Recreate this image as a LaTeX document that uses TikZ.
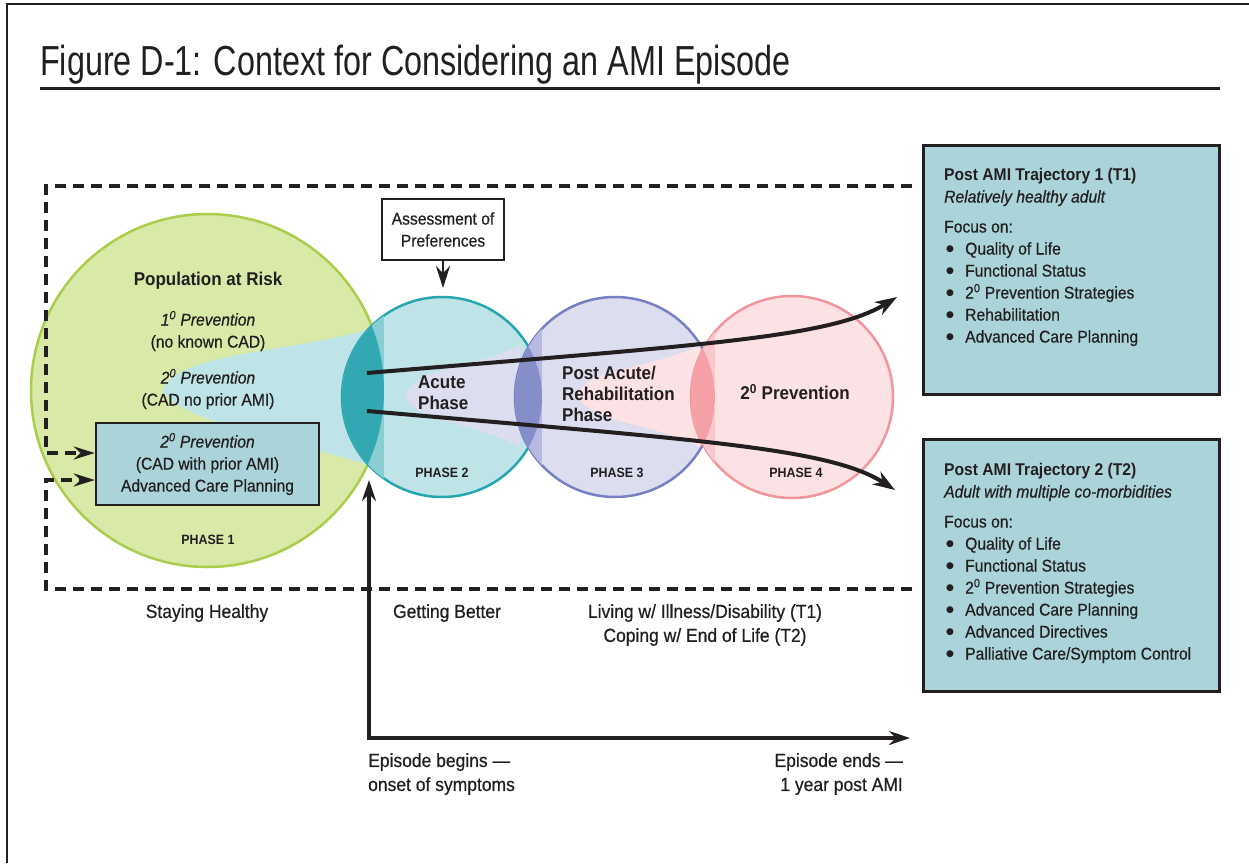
\documentclass[tikz,border=0pt]{standalone}
\usepackage{fontspec}
\setmainfont[FakeStretch=0.92,
  UprightFeatures={FakeBold=0.6},
  ItalicFeatures={FakeBold=0.6}]{Liberation Sans}
\newfontfamily\titlefont[FakeStretch=0.77]{Liberation Sans}
\newfontfamily\symfont{DejaVu Sans}
\usetikzlibrary{arrows.meta,positioning}

\definecolor{ink}{RGB}{35,31,32}
\definecolor{greenfill}{RGB}{217,233,168}
\definecolor{greenline}{RGB}{170,205,75}
\definecolor{cyanfill}{RGB}{190,228,232}
\definecolor{tealline}{RGB}{38,166,175}
\definecolor{tealstrip}{RGB}{138,205,211}
\definecolor{teallens}{RGB}{50,168,178}
\definecolor{lavfill}{RGB}{220,222,240}
\definecolor{blueline}{RGB}{118,128,195}
\definecolor{bluestrip}{RGB}{182,186,225}
\definecolor{bluelens}{RGB}{133,142,200}
\definecolor{pinkfill}{RGB}{252,226,228}
\definecolor{pinkline}{RGB}{243,150,156}
\definecolor{pinkstrip}{RGB}{249,200,204}
\definecolor{pinklens}{RGB}{244,160,166}
\definecolor{boxfill}{RGB}{170,212,218}

\newcommand{\bul}{\hspace*{2pt}\makebox[19pt][l]{\raisebox{2.6pt}{\symfont\fontsize{9}{9}\selectfont ●}}}
\newcommand{\sz}{\textsuperscript{0}}

\begin{document}
\begin{tikzpicture}[x=1pt,y=-1pt,
    every node/.style={text=ink, inner sep=0pt},
    txt/.style={font=\fontsize{17}{22}\selectfont},
    phasename/.style={font=\fontsize{18.5}{21}\selectfont\bfseries, align=left},
    phaselbl/.style={font=\fontsize{13.5}{16}\selectfont\bfseries},
    bottomtxt/.style={font=\fontsize{19}{24}\selectfont},
    dashframe/.style={draw=ink, line width=3.5pt, dash pattern=on 11pt off 7pt,
      -{Stealth[length=21pt,width=13pt]}},
    traj/.style={draw=ink, line width=4pt, -{Stealth[length=22pt,width=15pt,inset=7pt]}},
    trajbox/.style={draw=ink, line width=2.5pt, fill=boxfill, anchor=north west,
      minimum width=296pt},
    ring/.style={line width=2.5pt},
  ]
  \useasboundingbox (0,0) rectangle (1249,863);

  % frame and title
  \draw[ink, line width=2.5pt] (7,863) -- (7,4) -- (1249,4);
  \node[anchor=base west, font=\titlefont\fontsize{42}{42}\selectfont] (title) at (40,75)
    {Figure D-1: Context for Considering an AMI Episode};
  \draw[ink, line width=3pt] (40,88) -- (1220,88);

  \coordinate (c1) at (207.5,390.5);
  \coordinate (c2) at (442,397);
  \coordinate (c3) at (615,397);
  \coordinate (c4) at (792,397);

  % phase 1
  \fill[greenfill] (c1) circle[radius=176.5pt];
  \draw[greenline, ring] (c1) circle[radius=176.5pt];
  \fill[cyanfill] (372,328) .. controls (300,352) and (175,352) .. (163,390)
    .. controls (175,420) and (290,440) .. (372,466) -- cycle;

  % phase 2
  \fill[cyanfill] (c2) circle[radius=100pt];
  \draw[tealline, ring] (c2) circle[radius=100pt];
  \begin{scope}
    \clip (c2) circle[radius=100pt];
    \fill[tealstrip] (330,290) rectangle (384,505);
    \clip (c1) circle[radius=176.5pt];
    \fill[teallens] (330,290) rectangle (384,505);
  \end{scope}
  \fill[lavfill] (520,345) .. controls (470,370) and (412,368) .. (406,395)
    .. controls (412,422) and (470,420) .. (520,447) -- cycle;

  % phase 3
  \fill[lavfill] (c3) circle[radius=100pt];
  \draw[blueline, ring] (c3) circle[radius=100pt];
  \begin{scope}
    \clip (c3) circle[radius=100pt];
    \fill[bluestrip] (505,290) rectangle (542,505);
    \clip (c2) circle[radius=100pt];
    \fill[bluelens] (505,290) rectangle (542,505);
  \end{scope}
  \fill[pinkfill] (700,345) .. controls (650,370) and (586,368) .. (578,395)
    .. controls (586,422) and (650,422) .. (700,447) -- cycle;

  % phase 4
  \fill[pinkfill] (c4) circle[radius=101pt];
  \draw[pinkline, ring] (c4) circle[radius=101pt];
  \begin{scope}
    \clip (c4) circle[radius=101pt];
    \fill[pinkstrip] (680,290) rectangle (715,505);
    \clip (c3) circle[radius=100pt];
    \fill[pinklens] (680,290) rectangle (715,505);
  \end{scope}

  % phase texts
  \node[font=\fontsize{18.5}{21}\selectfont\bfseries] (risk) at (208,281) {Population at Risk};
  \node[txt, align=center] (prev1) at (208,331) {\textit{1\sz{} Prevention}\\(no known CAD)};
  \node[txt, align=center] (prev2) at (208,389) {\textit{2\sz{} Prevention}\\(CAD no prior AMI)};
  \node[txt, align=center, draw=ink, line width=2.5pt, fill=boxfill,
    minimum width=223pt, minimum height=82pt] (p1box) at (207.5,464)
    {\textit{2\sz{} Prevention}\\(CAD with prior AMI)\\Advanced Care Planning};
  \node[phaselbl] (ph1) at (208,540) {PHASE 1};

  \node[phasename, anchor=west] (acute) at (418,393) {Acute\\Phase};
  \node[phaselbl] (ph2) at (442,473) {PHASE 2};
  \node[phasename, anchor=west] (rehab) at (562,394) {Post Acute/\\Rehabilitation\\Phase};
  \node[phaselbl] (ph3) at (617,473) {PHASE 3};
  \node[phasename] (secprev) at (795,392) {2\sz{} Prevention};
  \node[phaselbl] (ph4) at (796,473) {PHASE 4};

  % assessment
  \node[txt, align=center, draw=ink, line width=2pt, fill=white,
    minimum width=122pt, minimum height=61pt] (assess) at (443,229.5)
    {Assessment of\\Preferences};
  \coordinate (assesstip) at (443,288);
  \draw[ink, line width=2.5pt, -{Stealth[length=22pt,width=14pt]}] (assess) -- (assesstip);

  % dashed frame
  \draw[dashframe] (912,186) -- (46,186) -- (46,453) -- (p1box.west |- 0,453);
  \draw[dashframe] (912,589) -- (46,589) -- (46,480) -- (p1box.west |- 0,480);

  % trajectories
  \coordinate (t1start) at (367,373);
  \coordinate (t1end) at (897,297);
  \coordinate (t2start) at (367,411);
  \coordinate (t2end) at (895,490);
  \draw[traj] (t1start) .. controls (700,345) and (830,338) .. (t1end);
  \draw[traj] (t2start) .. controls (700,440) and (830,448) .. (t2end);

  \node[trajbox, minimum height=249pt] (t1box) at (922,144) {};
  \node[txt, anchor=north west, align=left] (t1txt) at (944,168)
    {\textbf{Post AMI Trajectory 1 (T1)}\\
     \textit{Relatively healthy adult}\\[8pt]
     Focus on:\\
     \bul Quality of Life\\
     \bul Functional Status\\
     \bul 2\sz{} Prevention Strategies\\
     \bul Rehabilitation\\
     \bul Advanced Care Planning};

  \node[trajbox, minimum height=252pt] (t2box) at (922,438) {};
  \node[txt, anchor=north west, align=left] (t2txt) at (944,463)
    {\textbf{Post AMI Trajectory 2 (T2)}\\
     \textit{Adult with multiple co-morbidities}\\[8pt]
     Focus on:\\
     \bul Quality of Life\\
     \bul Functional Status\\
     \bul 2\sz{} Prevention Strategies\\
     \bul Advanced Care Planning\\
     \bul Advanced Directives\\
     \bul Palliative Care/Symptom Control};

  % episode axis
  \coordinate (onset) at (369,480);
  \coordinate (origin) at (369,738);
  \coordinate (yearend) at (910,738);
  \draw[ink, line width=3.5pt, >={Stealth[length=21pt,width=14pt]}, <->]
    (onset) -- (origin) -- (yearend);

  \node[bottomtxt] (healthy) at (207,613) {Staying Healthy};
  \node[bottomtxt] (better) at (447,613) {Getting Better};
  \node[bottomtxt, align=center] (living) at (705,625)
    {Living w/ Illness/Disability (T1)\\Coping w/ End of Life (T2)};
  \node[bottomtxt, align=left, anchor=north west] (begins) at (368,753)
    {Episode begins ---\\onset of symptoms};
  \node[bottomtxt, align=right, anchor=north east] (ends) at (903,753)
    {Episode ends ---\\1 year post AMI};
\end{tikzpicture}
\end{document}
